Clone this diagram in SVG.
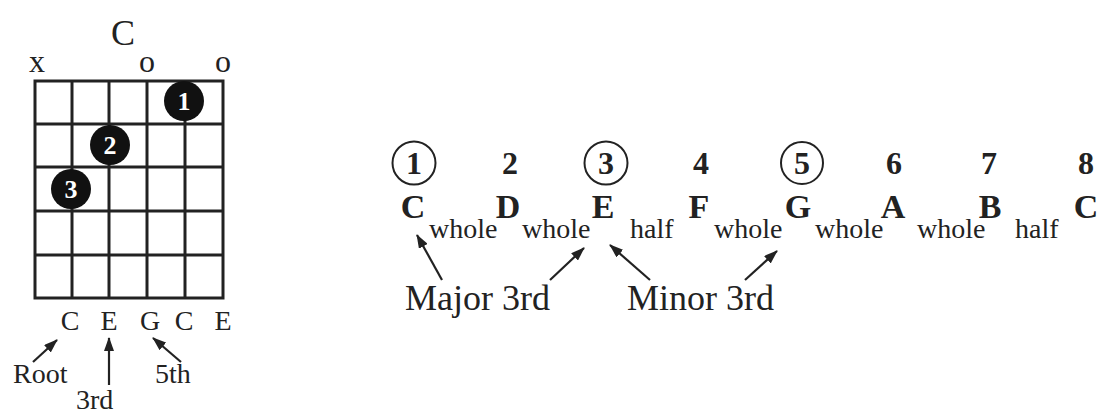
<svg xmlns="http://www.w3.org/2000/svg" width="1098" height="413" viewBox="0 0 1098 413">
<style>
.serif{font-family:"Liberation Serif","Times New Roman",serif;fill:#222}
.b{font-weight:bold}
.grid{stroke:#222;stroke-width:3;fill:none}
.arr{stroke:#222;stroke-width:2.2;fill:none;marker-end:url(#ah)}
.dot{fill:#111}
.dtxt{font-family:"Liberation Serif","Times New Roman",serif;font-weight:bold;fill:#fff;font-size:26px;text-anchor:middle}
.circ{fill:none;stroke:#222;stroke-width:2}
</style>
<defs>
<marker id="ah" viewBox="0 0 14 10" refX="13" refY="5" markerWidth="14" markerHeight="10" markerUnits="userSpaceOnUse" orient="auto">
<path d="M0,0 L14,5 L0,10 Z" fill="#222"/>
</marker>
</defs>
<rect width="1098" height="413" fill="#fff"/>

<g id="chord-chart">
<text class="serif" x="123" y="45" font-size="36" text-anchor="middle">C</text>
<text class="serif" x="37" y="72" font-size="32" text-anchor="middle">x</text>
<text class="serif" x="147" y="72" font-size="32" text-anchor="middle">o</text>
<text class="serif" x="223" y="72" font-size="32" text-anchor="middle">o</text>
<g class="grid">
<rect x="35" y="81" width="188" height="217"/>
<line x1="72" y1="81" x2="72" y2="298"/>
<line x1="109" y1="81" x2="109" y2="298"/>
<line x1="147" y1="81" x2="147" y2="298"/>
<line x1="185" y1="81" x2="185" y2="298"/>
<line x1="35" y1="124" x2="223" y2="124"/>
<line x1="35" y1="167" x2="223" y2="167"/>
<line x1="35" y1="211" x2="223" y2="211"/>
<line x1="35" y1="255" x2="223" y2="255"/>
</g>
<g id="finger1"><circle class="dot" cx="184" cy="101" r="20"/><text class="dtxt" x="184" y="110">1</text></g>
<g id="finger2"><circle class="dot" cx="110" cy="145" r="20"/><text class="dtxt" x="110" y="154">2</text></g>
<g id="finger3"><circle class="dot" cx="71" cy="189" r="20"/><text class="dtxt" x="71" y="198">3</text></g>
<g class="serif" font-size="28" text-anchor="middle">
<text x="70" y="330">C</text>
<text x="109" y="330">E</text>
<text x="150" y="330">G</text>
<text x="184" y="330">C</text>
<text x="223" y="330">E</text>
</g>
</g>

<g id="chord-labels" class="serif" font-size="28">
<text id="root" x="13" y="383">Root</text>
<text id="third" x="76" y="409">3rd</text>
<text id="fifth" x="155" y="383">5th</text>
</g>

<g id="scale-degrees" class="serif b" font-size="32" text-anchor="middle">
<circle class="circ" cx="414" cy="163" r="21.5"/>
<circle class="circ" cx="606" cy="163" r="21.5"/>
<circle class="circ" cx="802" cy="163" r="21"/>
<text x="414" y="174">1</text>
<text x="510" y="174">2</text>
<text x="606" y="174">3</text>
<text x="701" y="174">4</text>
<text x="802" y="174">5</text>
<text x="894" y="174">6</text>
<text x="989" y="174">7</text>
<text x="1086" y="174">8</text>
</g>

<g id="scale-notes" class="serif b" font-size="34" text-anchor="middle">
<text x="413" y="218">C</text>
<text x="508" y="218">D</text>
<text x="603" y="218">E</text>
<text x="699" y="218">F</text>
<text x="798" y="218">G</text>
<text x="893" y="218">A</text>
<text x="990" y="218">B</text>
<text x="1086" y="218">C</text>
</g>

<g id="steps" class="serif" font-size="28">
<text x="429" y="238">whole</text>
<text x="522" y="238">whole</text>
<text x="630" y="238">half</text>
<text x="714" y="238">whole</text>
<text x="815" y="238">whole</text>
<text x="917" y="238">whole</text>
<text x="1015" y="238">half</text>
</g>

<g id="interval-labels" class="serif" font-size="36">
<text x="405" y="310">Major 3rd</text>
<text x="627" y="310">Minor 3rd</text>
</g>

<g id="connectors">
<line class="arr" x1="33" y1="362" x2="57" y2="340"/>
<line class="arr" x1="109" y1="385" x2="109" y2="338"/>
<line class="arr" x1="181" y1="362" x2="153" y2="338"/>
<line class="arr" x1="442" y1="280" x2="417" y2="235"/>
<line class="arr" x1="550" y1="280" x2="584" y2="248"/>
<line class="arr" x1="650" y1="280" x2="610" y2="245"/>
<line class="arr" x1="745" y1="280" x2="777" y2="251"/>
</g>
</svg>
